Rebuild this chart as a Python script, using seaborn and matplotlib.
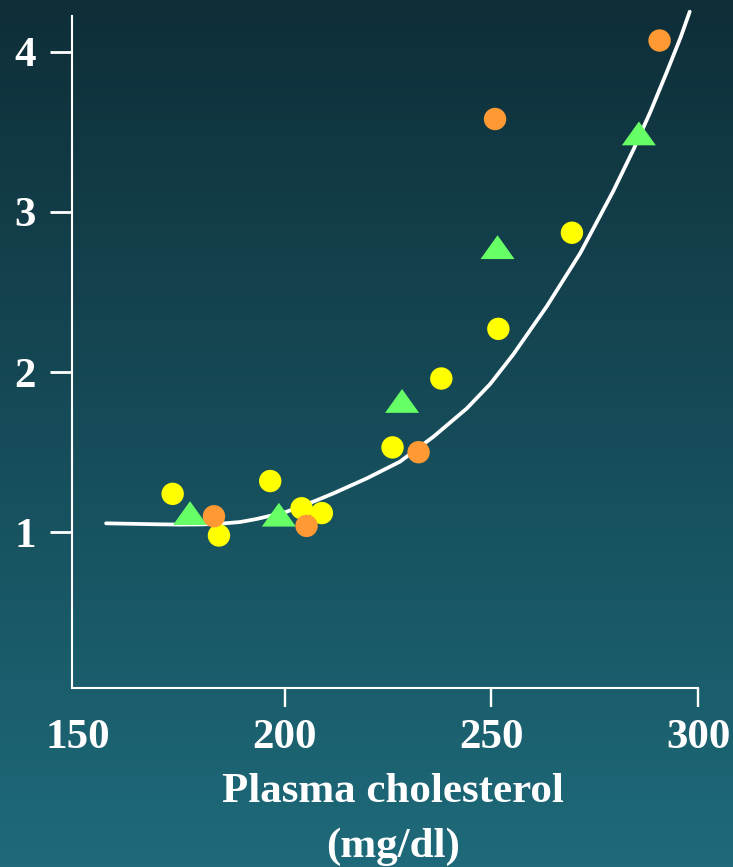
import numpy as np
import pandas as pd
import seaborn as sns
import matplotlib.pyplot as plt

# values
yellow_x = [172.9, 184.1, 196.5, 204.1, 209.0, 226.1, 237.9, 251.7, 269.5]
yellow_y = [1.24, 0.98, 1.32, 1.15, 1.12, 1.53, 1.96, 2.27, 2.87]

orange_x = [182.9, 205.3, 232.4, 250.9, 290.7]
orange_y = [1.10, 1.04, 1.50, 3.58, 4.07]

green_x = [177.1, 198.6, 228.4, 251.5, 285.7]
green_y = [1.12, 1.11, 1.82, 2.78, 3.49]

curve_x = [156.8, 163.0, 169.0, 174.5, 179.5, 184.5, 189.2, 193.2, 200.0, 206.9,
           211.8, 219.9, 227.9, 236.0, 244.1, 249.7, 255.3, 263.4, 271.5, 279.5,
           284.4, 288.4, 292.4, 295.8, 298.0]
curve_y = [1.056, 1.053, 1.050, 1.048, 1.049, 1.054, 1.064, 1.083, 1.124, 1.191,
           1.243, 1.337, 1.441, 1.597, 1.774, 1.925, 2.110, 2.410, 2.742, 3.130,
           3.390, 3.620, 3.870, 4.090, 4.250]

x_ticks = [150, 200, 250, 300]
y_ticks = [1, 2, 3, 4]
x_label = "Plasma cholesterol\n(mg/dl)"

yellow = pd.DataFrame({"chol": yellow_x, "val": yellow_y})
orange = pd.DataFrame({"chol": orange_x, "val": orange_y})
green = pd.DataFrame({"chol": green_x, "val": green_y})
curve = pd.DataFrame({"chol": curve_x, "val": curve_y})

sns.set_theme(style="ticks")
plt.rcParams["font.family"] = ["Liberation Serif", "DejaVu Serif"]
plt.rcParams["font.weight"] = "bold"

fig = plt.figure(figsize=(7.33, 8.67), dpi=100)

# gradient background
bg = fig.add_axes([0, 0, 1, 1])
top = np.array([14, 46, 56]) / 255
bottom = np.array([30, 106, 122]) / 255
t = np.linspace(0, 1, 256)[:, None]
grad = top + (bottom - top) * t
bg.imshow(grad[:, None, :], aspect="auto", extent=[0, 1, 0, 1])
bg.set_axis_off()

ax = fig.add_axes([72 / 733, (867 - 688) / 867, 626 / 733, 672 / 867])
ax.patch.set_alpha(0)

sns.lineplot(data=curve, x="chol", y="val", color="white", linewidth=2.7,
             estimator=None, sort=False, ax=ax, clip_on=False, zorder=2)
for ln in ax.get_lines():
    ln.set_solid_joinstyle("round")

tri = [(-1, -0.7), (1, -0.7), (0, 0.7)]
sns.scatterplot(data=yellow, x="chol", y="val", color="#ffff00", s=260,
                marker="o", edgecolor="none", linewidth=0, ax=ax, zorder=3)
sns.scatterplot(data=orange, x="chol", y="val", color="#ff9933", s=260,
                marker="o", edgecolor="none", linewidth=0, ax=ax, zorder=4,
                clip_on=False)
sns.scatterplot(data=green, x="chol", y="val", color="#66ff66", s=600,
                marker=tri, edgecolor="none", linewidth=0, ax=ax, zorder=3)

ax.set_xlim(148.55, 300)
ax.set_ylim(0.028, 4.223)
ax.set_xticks(x_ticks)
ax.set_yticks(y_ticks)
ax.xaxis.get_major_ticks()[0].tick1line.set_visible(False)

for side in ["top", "right"]:
    ax.spines[side].set_visible(False)
for side in ["left", "bottom"]:
    ax.spines[side].set_color("white")
    ax.spines[side].set_linewidth(1.5)

ax.tick_params(axis="x", colors="white", length=14, width=1.7, pad=8,
               labelsize=31)
ax.tick_params(axis="y", colors="white", length=16, width=2, pad=10,
               labelsize=31)
for lab in ax.get_xticklabels() + ax.get_yticklabels():
    lab.set_fontweight("bold")

ax.set_ylabel("")
ax.set_xlabel(x_label, color="white", fontsize=31, fontweight="bold",
              linespacing=1.55)
ax.xaxis.set_label_coords(0.513, -0.127)

fig.savefig("out.png", dpi=100)
